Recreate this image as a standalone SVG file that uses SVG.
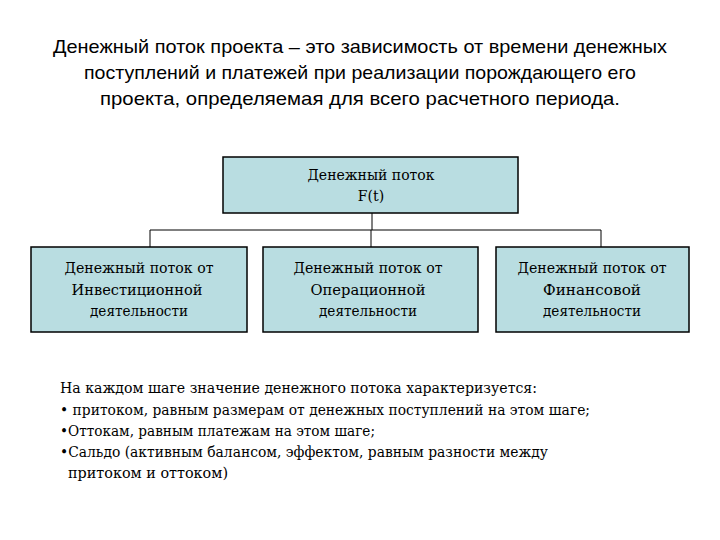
<svg xmlns="http://www.w3.org/2000/svg" width="720" height="540" viewBox="0 0 720 540">
<style>
.title{font-family:"Liberation Sans",Arial,sans-serif;font-size:19px;fill:#000;text-anchor:middle}
.box rect{fill:#b9dde1;stroke:#000;stroke-width:1.5}
.box text{font-family:"DejaVu Serif","Liberation Serif",serif;font-size:14px;fill:#000;text-anchor:middle}
.note{font-family:"DejaVu Serif","Liberation Serif",serif;font-size:14px;fill:#000}
.conn{stroke:#000;stroke-width:1;fill:none}
</style>
<rect width="720" height="540" fill="#fff"/>
<g id="title">
<text class="title" x="360" y="53" textLength="614" lengthAdjust="spacingAndGlyphs">Денежный поток проекта – это зависимость от времени денежных</text>
<text class="title" x="360" y="79" textLength="552" lengthAdjust="spacingAndGlyphs">поступлений и платежей при реализации порождающего его</text>
<text class="title" x="360" y="105" textLength="520" lengthAdjust="spacingAndGlyphs">проекта, определяемая для всего расчетного периода.</text>
</g>
<g id="connectors">
<path class="conn" d="M372 213V230M150 230H601M150 230V247M371 230V247M601 230V247"/>
</g>
<g id="root" class="box">
<rect x="223" y="157" width="295" height="56"/>
<text x="371" y="180" textLength="127" lengthAdjust="spacingAndGlyphs">Денежный поток</text>
<text x="371" y="201">F(t)</text>
</g>
<g id="invest" class="box">
<rect x="31" y="247" width="216" height="85"/>
<text x="139" y="273" textLength="149" lengthAdjust="spacingAndGlyphs">Денежный поток от</text>
<text x="137" y="295" textLength="131" lengthAdjust="spacingAndGlyphs">Инвестиционной</text>
<text x="139" y="316" textLength="98" lengthAdjust="spacingAndGlyphs">деятельности</text>
</g>
<g id="oper" class="box">
<rect x="263" y="247" width="215" height="85"/>
<text x="368" y="273" textLength="149" lengthAdjust="spacingAndGlyphs">Денежный поток от</text>
<text x="368" y="295" textLength="115" lengthAdjust="spacingAndGlyphs">Операционной</text>
<text x="368" y="316" textLength="98" lengthAdjust="spacingAndGlyphs">деятельности</text>
</g>
<g id="fin" class="box">
<rect x="496" y="247" width="193" height="85"/>
<text x="592" y="273" textLength="149" lengthAdjust="spacingAndGlyphs">Денежный поток от</text>
<text x="592" y="295" textLength="98" lengthAdjust="spacingAndGlyphs">Финансовой</text>
<text x="592" y="316" textLength="98" lengthAdjust="spacingAndGlyphs">деятельности</text>
</g>
<g id="notes">
<text class="note" x="60" y="393" textLength="477" lengthAdjust="spacingAndGlyphs">На каждом шаге значение денежного потока характеризуется:</text>
<text class="note" x="60" y="415" textLength="530" lengthAdjust="spacingAndGlyphs">• притоком, равным размерам от денежных поступлений на этом шаге;</text>
<text class="note" x="60" y="436" textLength="315" lengthAdjust="spacingAndGlyphs">•Оттокам, равным платежам на этом шаге;</text>
<text class="note" x="60" y="457" textLength="488" lengthAdjust="spacingAndGlyphs">•Сальдо (активным балансом, эффектом, равным разности между</text>
<text class="note" x="68" y="478" textLength="160" lengthAdjust="spacingAndGlyphs">притоком и оттоком)</text>
</g>
</svg>
